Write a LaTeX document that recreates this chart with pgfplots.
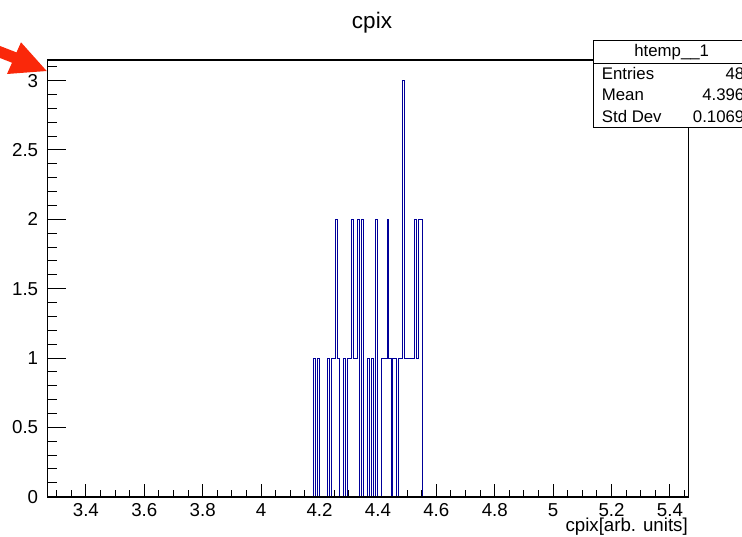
\documentclass[border=0pt]{standalone}
\usepackage{fontspec}
\setmainfont{Liberation Sans}
\usepackage{pgfplots}
\pgfplotsset{compat=1.18}
\definecolor{histblue}{RGB}{0,0,153}
\definecolor{arrowred}{RGB}{250,40,10}

\begin{document}
\begin{tikzpicture}
\useasboundingbox (0pt,0pt) rectangle (742pt,536pt);

\begin{axis}[
  name=main,
  at={(47.3pt,39.3pt)}, anchor=south west,
  scale only axis, width=641pt, height=436.7pt,
  xmin=3.268, xmax=5.4627, ymin=0, ymax=3.149,
  tick style={draw=none},
  xtick={3.4,3.6,3.8,4,4.2,4.4,4.6,4.8,5,5.2,5.4},
  ytick={0,0.5,1,1.5,2,2.5,3},
  /pgf/number format/assume math mode=true,
  xticklabel style={font=\fontsize{18.7}{20}\selectfont, anchor=north, inner sep=0pt, yshift=-6.6pt},
  yticklabel style={font=\fontsize{18.7}{20}\selectfont, anchor=east, inner sep=0pt, xshift=-9pt},
]
% ticks on the bottom and left edges only, pointing inwards
\pgfplotsinvokeforeach{3.4,3.6,3.8,4,4.2,4.4,4.6,4.8,5,5.2,5.4}{
  \draw[black, line width=1pt] (axis cs:#1,0) -- ++(0pt,13pt);}
\pgfplotsinvokeforeach{3.3,3.35,3.45,3.5,3.55,3.65,3.7,3.75,3.85,3.9,3.95,4.05,4.1,4.15,4.25,4.3,4.35,4.45,4.5,4.55,4.65,4.7,4.75,4.85,4.9,4.95,5.05,5.1,5.15,5.25,5.3,5.35,5.45}{
  \draw[black, line width=1pt] (axis cs:#1,0) -- ++(0pt,6.5pt);}
\pgfplotsinvokeforeach{0.5,1,1.5,2,2.5,3}{
  \draw[black, line width=1pt] (axis cs:3.268,#1) -- ++(19.2pt,0pt);}
\pgfplotsinvokeforeach{0.1,0.2,0.3,0.4,0.6,0.7,0.8,0.9,1.1,1.2,1.3,1.4,1.6,1.7,1.8,1.9,2.1,2.2,2.3,2.4,2.6,2.7,2.8,2.9,3.1}{
  \draw[black, line width=1pt] (axis cs:3.268,#1) -- ++(9.6pt,0pt);}

% histogram outline: left bin edge and bin content
\addplot[const plot, histblue, line width=1pt] table {
x y
3.2680 0
4.1781 1
4.1849 0
4.1918 1
4.1986 0
4.2055 0
4.2123 0
4.2191 0
4.2260 1
4.2328 0
4.2396 1
4.2465 1
4.2533 2
4.2602 1
4.2670 0
4.2738 0
4.2807 1
4.2875 0
4.2943 1
4.3012 1
4.3080 2
4.3149 1
4.3217 1
4.3285 2
4.3354 0
4.3422 2
4.3490 0
4.3559 0
4.3627 1
4.3696 0
4.3764 1
4.3832 0
4.3901 2
4.3969 0
4.4037 0
4.4106 1
4.4174 1
4.4243 1
4.4311 2
4.4379 1
4.4448 0
4.4516 1
4.4584 1
4.4653 0
4.4721 1
4.4790 1
4.4858 3
4.4926 1
4.4995 1
4.5063 1
4.5131 1
4.5200 1
4.5268 2
4.5337 1
4.5405 2
4.5473 2
4.5542 0
5.4627 0
};
\end{axis}

% frame round the plotting area
\draw[black, line width=1pt] (main.south west) rectangle (main.north east);

% axis title and histogram title
\node[anchor=base east, inner sep=0pt, font=\fontsize{18.7}{20}\selectfont] at (688pt,5pt) {cpix[arb. units]};
\node[anchor=base, inner sep=0pt, font=\fontsize{22.5}{24}\selectfont] at (372pt,507pt) {cpix};

% statistics box
\fill[white] (593pt,408pt) rectangle (750pt,495pt);
\draw[black, line width=1pt] (593pt,408pt) rectangle (750pt,495pt);
\draw[black, line width=1pt] (593pt,472pt) -- (750pt,472pt);
\begin{scope}[every node/.style={inner sep=0pt, font=\fontsize{16.8}{18}\selectfont}]
\node[anchor=base] at (671.7pt,479.5pt) {htemp\_\_1};
\node[anchor=base west] at (601.7pt,456.7pt) {Entries};
\node[anchor=base east] at (744.5pt,456.7pt) {48};
\node[anchor=base west] at (601.7pt,435pt) {Mean};
\node[anchor=base east] at (744.5pt,435pt) {4.396};
\node[anchor=base west] at (601.7pt,413.3pt) {Std Dev};
\node[anchor=base east] at (744.5pt,413.3pt) {0.1069};
\end{scope}

% pointer arrow at the upper left
\fill[arrowred] (-20pt,497.8pt) -- (16.5pt,483.6pt) -- (21pt,493.7pt) -- (46.7pt,465pt) -- (7pt,462pt) -- (12pt,473.3pt) -- (-20pt,485.8pt) -- cycle;
\end{tikzpicture}
\end{document}
